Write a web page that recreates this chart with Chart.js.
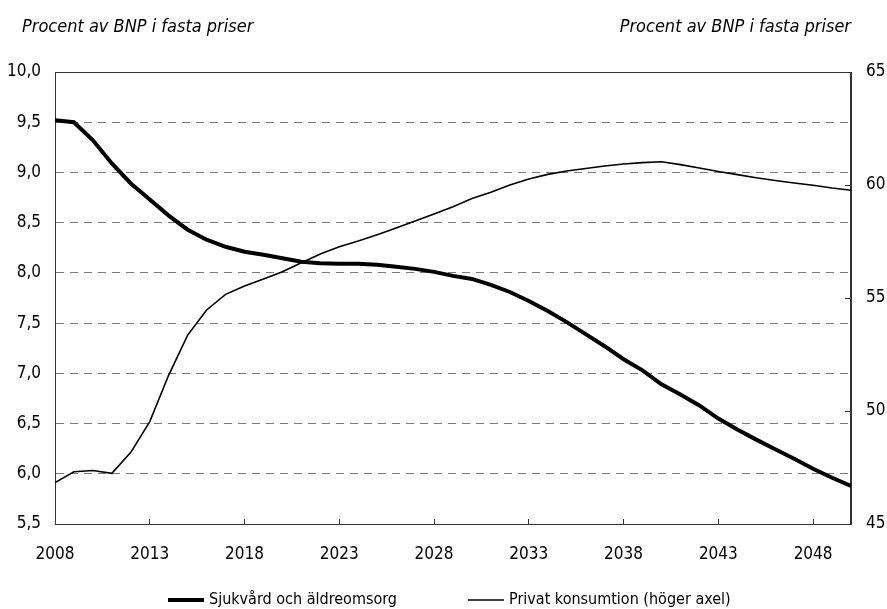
<!DOCTYPE html>
<html>
<head>
<meta charset="utf-8">
<script src="https://cdn.jsdelivr.net/npm/chart.js@4.4.1/dist/chart.umd.min.js"></script>
<style>
    html, body { margin: 0; padding: 0; background: #fff; }
    #wrap { width: 887px; height: 609px; }
</style>
</head>
<body>
<div id="wrap"><canvas id="chart" width="887" height="609"></canvas></div>
<script>
// Data
const years = [];
for (let y = 2008; y <= 2050; y++) years.push(y);

const care = [9.52, 9.50, 9.32, 9.09, 8.89, 8.73, 8.57, 8.43, 8.33, 8.26,
    8.21, 8.18, 8.145, 8.11, 8.095, 8.09, 8.09, 8.08, 8.06, 8.04,
    8.01, 7.97, 7.94, 7.88, 7.81, 7.72, 7.62, 7.51, 7.39, 7.27,
    7.14, 7.03, 6.89, 6.79, 6.68, 6.55, 6.44, 6.34, 6.245, 6.15,
    6.05, 5.96, 5.88];

const consumption = [46.83, 47.31, 47.37, 47.24, 48.17, 49.53, 51.59, 53.36, 54.47, 55.16,
    55.53, 55.84, 56.16, 56.56, 56.95, 57.27, 57.52, 57.80, 58.10, 58.41,
    58.72, 59.04, 59.40, 59.68, 60.00, 60.27, 60.47, 60.62, 60.73, 60.84,
    60.93, 60.99, 61.03, 60.90, 60.75, 60.60, 60.46, 60.32, 60.20, 60.09,
    59.99, 59.87, 59.77];

const xTicks = [2008, 2013, 2018, 2023, 2028, 2033, 2038, 2043, 2048];
const leftTicks = [5.5, 6.0, 6.5, 7.0, 7.5, 8.0, 8.5, 9.0, 9.5, 10.0];
const rightTicks = [45, 50, 55, 60, 65];

const seriesNames = ['Sjukvård och äldreomsorg', 'Privat konsumtion (höger axel)'];
const axisTitle = 'Procent av BNP i fasta priser';

const FONT = "'Liberation Sans Narrow', 'DejaVu Sans Condensed', 'Arial Narrow', sans-serif";
const AXIS_COLOR = '#333';

// Rubriker + ram + legend
const decorPlugin = {
    id: 'decor',
    beforeDatasetsDraw(chart) {
        const { ctx, chartArea: a } = chart;
        ctx.save();
        ctx.strokeStyle = AXIS_COLOR;
        ctx.lineWidth = 1;
        ctx.strokeRect(a.left + 0.5, a.top + 0.5, a.right - a.left - 1, a.bottom - a.top);
        ctx.restore();
    },
    afterDraw(chart) {
        const { ctx, chartArea: a } = chart;
        ctx.save();
        ctx.fillStyle = '#000';
        ctx.font = 'italic 18px ' + FONT;
        ctx.textBaseline = 'alphabetic';
        ctx.textAlign = 'left';
        ctx.fillText(axisTitle, 22, 32);
        ctx.textAlign = 'right';
        ctx.fillText(axisTitle, a.right, 32);

        // legend, en post per serie
        ctx.font = '16px ' + FONT;
        ctx.textAlign = 'left';
        ctx.textBaseline = 'middle';
        const lineLen = 36, gap = 5, ly = 600;
        const starts = [168, 468];
        chart.data.datasets.forEach((ds, i) => {
            const x = starts[i];
            ctx.strokeStyle = '#000';
            ctx.lineWidth = ds.borderWidth;
            ctx.beginPath();
            ctx.moveTo(x, ly);
            ctx.lineTo(x + lineLen, ly);
            ctx.stroke();
            ctx.fillText(ds.label, x + lineLen + gap, ly);
        });
        ctx.restore();
    }
};

const ctx = document.getElementById('chart');
new Chart(ctx, {
    type: 'line',
    data: {
        datasets: [{
            label: seriesNames[0],
            data: years.map((y, i) => ({ x: y, y: care[i] })),
            borderColor: '#000',
            borderWidth: 4,
            pointRadius: 0,
            tension: 0,
            yAxisID: 'y'
        }, {
            label: seriesNames[1],
            data: years.map((y, i) => ({ x: y, y: consumption[i] })),
            borderColor: '#000',
            borderWidth: 1.6,
            pointRadius: 0,
            tension: 0,
            yAxisID: 'y1'
        }]
    },
    options: {
        responsive: false,
        animation: false,
        events: [],
        layout: { padding: { top: 72, bottom: 45, left: 0, right: 0 } },
        plugins: {
            legend: { display: false },
            tooltip: { enabled: false }
        },
        scales: {
            x: {
                type: 'linear',
                min: 2008,
                max: 2050,
                afterBuildTicks: (scale) => { scale.ticks = xTicks.map(v => ({ value: v })); },
                afterFit: (scale) => { scale.height = 40; },
                grid: {
                    drawOnChartArea: false,
                    drawTicks: true,
                    tickLength: -5,
                    tickColor: AXIS_COLOR
                },
                border: { display: true, color: AXIS_COLOR, width: 1 },
                ticks: {
                    callback: (v) => String(v),
                    color: '#000',
                    font: { family: FONT, size: 17 },
                    padding: 25,
                    maxRotation: 0,
                    autoSkip: false
                }
            },
            y: {
                position: 'left',
                min: 5.5,
                max: 10,
                afterBuildTicks: (scale) => { scale.ticks = leftTicks.map(v => ({ value: v })); },
                afterFit: (scale) => { scale.width = 55; },
                grid: {
                    drawTicks: false,
                    color: (c) => (c.tick && (c.tick.value === 5.5 || c.tick.value === 10)) ? 'rgba(0,0,0,0)' : '#7a7a7a',
                    lineWidth: 1
                },
                border: { display: true, color: AXIS_COLOR, width: 1, dash: [8, 6] },
                ticks: {
                    callback: (v) => Number(v).toFixed(1).replace('.', ','),
                    color: '#000',
                    font: { family: FONT, size: 17 },
                    padding: 14
                }
            },
            y1: {
                position: 'right',
                min: 45,
                max: 65,
                afterBuildTicks: (scale) => { scale.ticks = rightTicks.map(v => ({ value: v })); },
                afterFit: (scale) => { scale.width = 36; },
                grid: {
                    drawOnChartArea: false,
                    drawTicks: true,
                    tickLength: -6,
                    tickColor: AXIS_COLOR
                },
                border: { display: true, color: AXIS_COLOR, width: 1 },
                ticks: {
                    callback: (v) => String(v),
                    color: '#000',
                    font: { family: FONT, size: 17 },
                    padding: 21
                }
            }
        }
    },
    plugins: [decorPlugin]
});
</script>
</body>
</html>
